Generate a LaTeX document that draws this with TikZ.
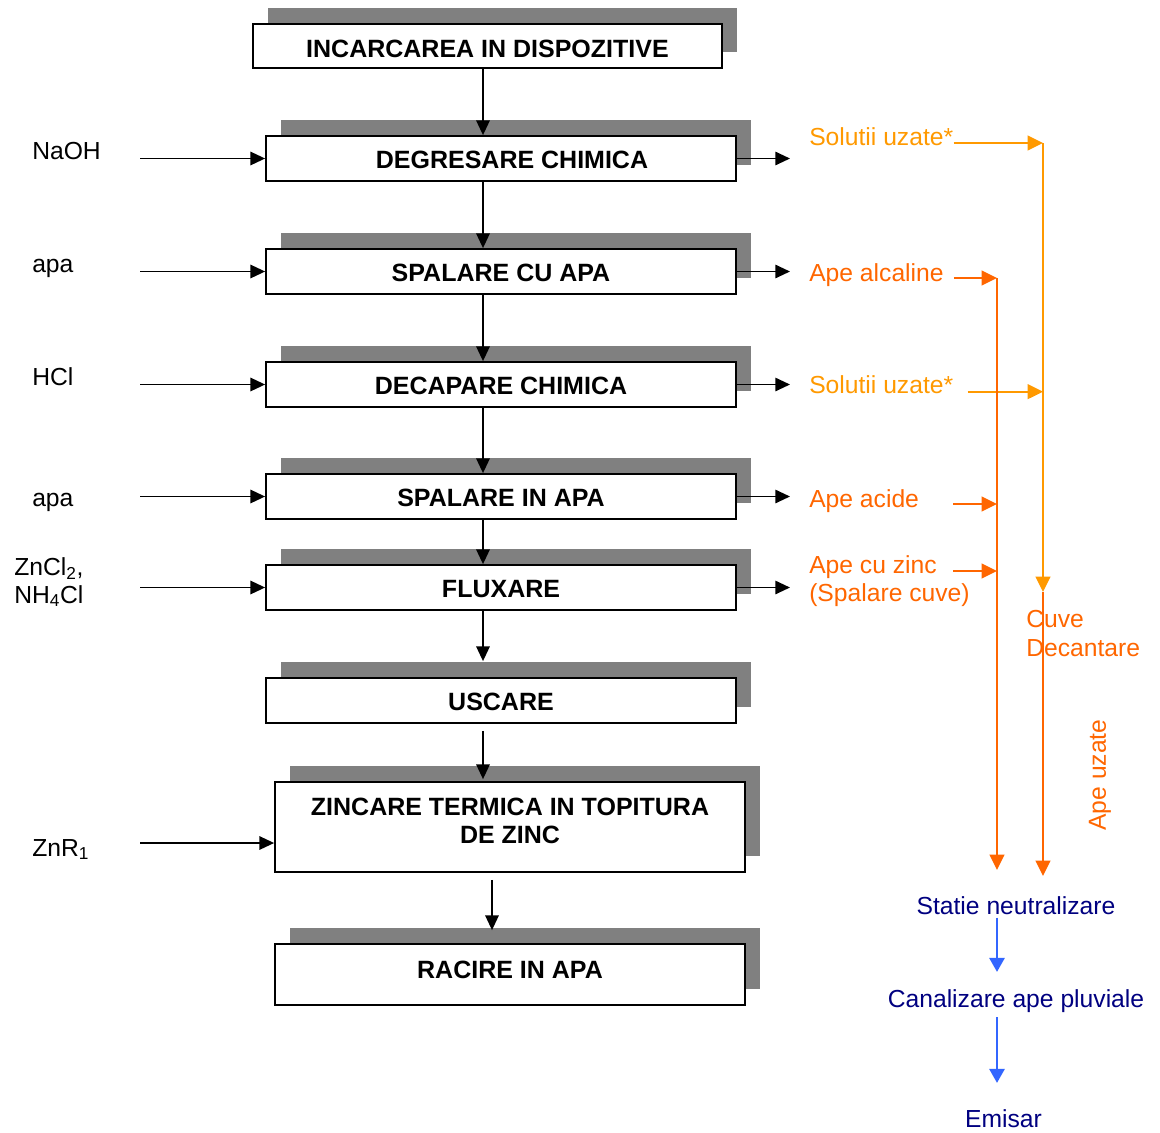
\documentclass[tikz,border=0pt]{standalone}
\usepackage{fontspec}
\setmainfont{Liberation Sans}
\usetikzlibrary{arrows.meta,shadows}
\definecolor{lorange}{HTML}{FF9900}
\definecolor{dorange}{HTML}{FF6600}
\definecolor{navytxt}{HTML}{000080}
\definecolor{bluearr}{HTML}{3366FF}
\definecolor{shgray}{HTML}{808080}
\newcommand\shifttxt[2]{\raisebox{#1}[\height][\depth]{#2}}
\begin{document}
\begin{tikzpicture}[x=0.75pt,y=-0.75pt,
  box/.style={draw=black, line width=1.3pt, fill=white, inner sep=0pt,
    minimum width=352.5pt, minimum height=33.75pt, align=center,
    font=\fontsize{18.75}{22.5}\selectfont\bfseries,
    general shadow={fill=shgray, shadow xshift=11.25pt, shadow yshift=12pt}},
  lab/.style={font=\fontsize{18.5}{22}\selectfont, inner sep=0pt},
  olab/.style={lab, text=dorange},
  llab/.style={lab, text=lorange},
  blab/.style={lab, text=navytxt},
  blk/.style={line width=1.4pt, -{Triangle[length=11pt,width=10pt]}},
  lor/.style={draw=lorange, line width=1.5pt, -{Triangle[length=11.5pt,width=11pt]}},
  dor/.style={draw=dorange, line width=1.5pt, -{Triangle[length=11.5pt,width=11pt]}},
  blu/.style={draw=bluearr, line width=1.4pt, -{Triangle[length=10.5pt,width=11.5pt]}}
]
\useasboundingbox (0,0) rectangle (1160,1132);

% process boxes
\node[box, minimum width=351.75pt, minimum height=33pt] (inc) at (487.5,46) {\shifttxt{-1.9pt}{INCARCAREA IN DISPOZITIVE}};
\node[box] (deg) at (501,158.5) {\hspace*{16.5pt}\shifttxt{-1.2pt}{DEGRESARE CHIMICA}};
\node[box] (sca) at (501,271.5) {\shifttxt{-1.2pt}{SPALARE CU APA}};
\node[box] (dec) at (501,384.5) {\shifttxt{-1.2pt}{DECAPARE CHIMICA}};
\node[box] (sia) at (501,496.5) {\shifttxt{-1.2pt}{SPALARE IN APA}};
\node[box] (flx) at (501,587.5) {\shifttxt{-1.2pt}{FLUXARE}};
\node[box] (usc) at (501,700.5) {\shifttxt{-1.2pt}{USCARE}};
\node[box, minimum height=67.5pt] (znc) at (510,827) {\shifttxt{2.6pt}{\begin{tabular}{@{}c@{}}ZINCARE TERMICA IN TOPITURA\\[-1pt] DE ZINC\end{tabular}}};
\node[box, minimum height=45.75pt] (rac) at (510,974.5) {\shifttxt{3.4pt}{RACIRE IN APA}};

% input labels
\node[lab, anchor=base west] (naoh) at (32,159) {NaOH};
\node[lab, anchor=base west] (apa1) at (32,272) {apa};
\node[lab, anchor=base west] (hcl) at (32,385) {HCl};
\node[lab, anchor=base west] (apa2) at (32,506) {apa};
\node[lab, anchor=base west] (zncl) at (14,575) {ZnCl\textsubscript{2},};
\node[lab, anchor=base west] (nh4) at (14,603) {NH\textsubscript{4}Cl};
\node[lab, anchor=base west] (znr) at (32,856) {ZnR\textsubscript{1}};

% helper coordinates
\coordinate (ix) at (140,0);
\coordinate (ox) at (790,0);
\coordinate (vx) at (483,0);
\coordinate (vx2) at (492,0);
\coordinate (zin) at ([yshift=-12pt]znc.west);

% input arrows
\draw[blk] (deg.west -| ix) -- (deg.west);
\draw[blk] (sca.west -| ix) -- (sca.west);
\draw[blk] (dec.west -| ix) -- (dec.west);
\draw[blk] (sia.west -| ix) -- (sia.west);
\draw[blk] (flx.west -| ix) -- (flx.west);
\draw[blk] (zin -| ix) -- (zin);

% main flow
\draw[blk] (inc.south -| vx) -- (deg.north -| vx);
\draw[blk] (deg.south -| vx) -- (sca.north -| vx);
\draw[blk] (sca.south -| vx) -- (dec.north -| vx);
\draw[blk] (dec.south -| vx) -- (sia.north -| vx);
\draw[blk] (sia.south -| vx) -- (flx.north -| vx);
\draw[blk, shorten >=12pt] (flx.south -| vx) -- (usc.north -| vx);
\draw[blk, shorten <=5.25pt, shorten >=1.5pt] (usc.south -| vx) -- (znc.north -| vx);
\draw[blk, shorten <=5.25pt, shorten >=9.75pt] (znc.south -| vx2) -- (rac.north -| vx2);

% output arrows
\draw[blk] (deg.east) -- (deg.east -| ox);
\draw[blk] (sca.east) -- (sca.east -| ox);
\draw[blk] (dec.east) -- (dec.east -| ox);
\draw[blk] (sia.east) -- (sia.east -| ox);
\draw[blk] (flx.east) -- (flx.east -| ox);

% effluent labels
\node[llab, anchor=base west] (s1) at (809,145) {Solutii uzate*};
\node[olab, anchor=base west] (aa) at (809,281) {Ape alcaline};
\node[llab, anchor=base west] (s2) at (809,393) {Solutii uzate*};
\node[olab, anchor=base west] (ac) at (809,507) {Ape acide};
\node[olab, anchor=base west] (az) at (809,573) {Ape cu zinc};
\node[olab, anchor=base west] (sc) at (809,601) {(Spalare cuve)};
\node[olab, anchor=base west] (cuve) at (1026,627) {Cuve};
\node[olab, anchor=base west] (dcn) at (1026,656) {Decantare};
\node[olab, rotate=90] (uz) at (1100,775) {Ape uzate};

% trunk coordinates
\coordinate (rtop) at (1043,143);
\coordinate (ctip) at (1043,592);
\coordinate (rbot) at (1043,876);
\coordinate (ltop) at (997,278);
\coordinate (lbot) at (997,870);

\coordinate (s1e) at ([yshift=1.5pt]s1.base east);
\coordinate (s2e) at ([xshift=10.5pt,yshift=1pt]s2.base east);
\coordinate (aae) at ([xshift=7.5pt,yshift=2.25pt]aa.base east);
\coordinate (ace) at ([xshift=25.5pt,yshift=2.25pt]ac.base east);
\coordinate (aze) at ([xshift=12pt,yshift=1.5pt]az.base east);

\draw[lor] (s1e) -- (s1e -| rtop);
\draw[lor] (s2e) -- (s2e -| rtop);
\draw[dor] (aae) -- (aae -| ltop);
\draw[dor] (ace) -- (ace -| ltop);
\draw[dor] (aze) -- (aze -| ltop);

\draw[lor] (rtop) -- (ctip);
\draw[dor] (ctip) -- (rbot);
\draw[dor] (ltop) -- (lbot);

% neutralisation chain
\node[blab, anchor=base] (stat) at (1016,914) {Statie neutralizare};
\node[blab, anchor=base] (cana) at (1016,1007) {Canalizare ape pluviale};
\node[blab, anchor=base] (emis) at (1003.5,1127) {Emisar};
\coordinate (bx) at (997,0);
\draw[blu, shorten <=2.25pt, shorten >=12.75pt] (stat.south -| bx) -- (cana.north -| bx);
\draw[blu, shorten <=3.75pt, shorten >=19.5pt] (cana.south -| bx) -- (emis.north -| bx);
\end{tikzpicture}
\end{document}
